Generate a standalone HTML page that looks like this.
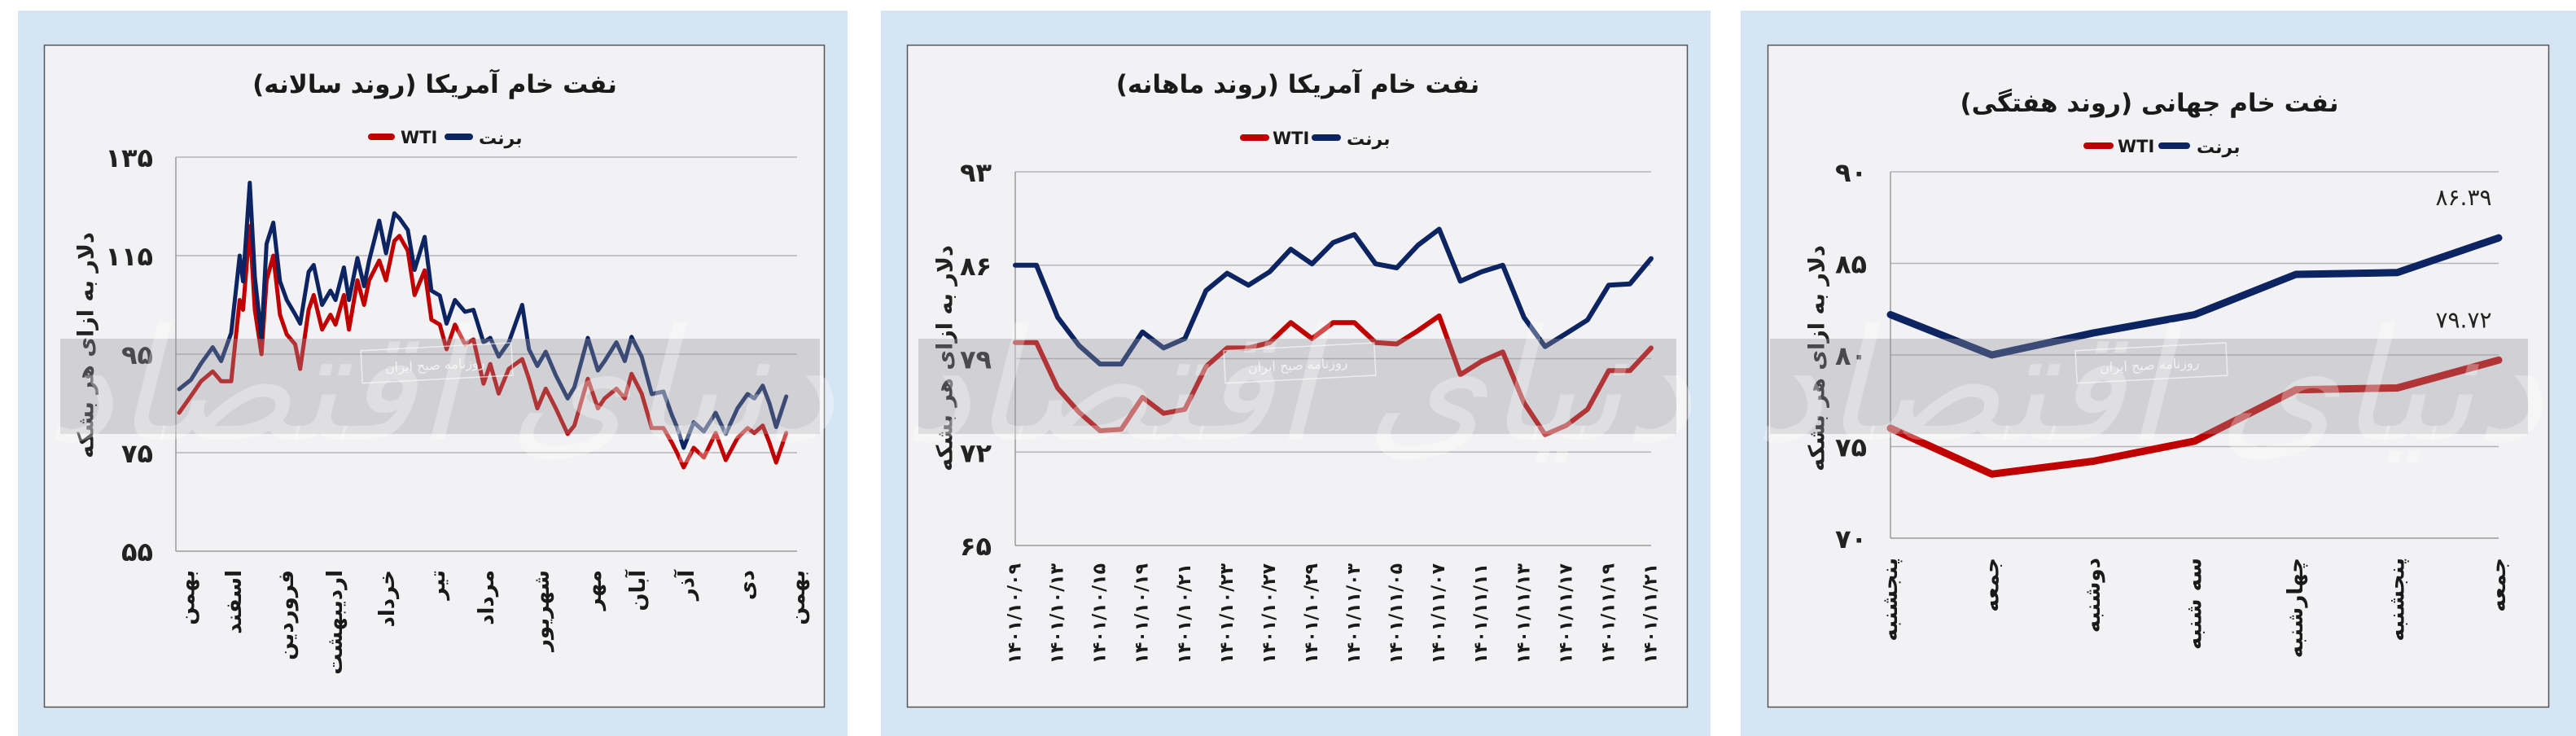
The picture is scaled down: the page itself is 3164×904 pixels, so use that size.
<!DOCTYPE html>
<html><head><meta charset="utf-8">
<style>
html,body{margin:0;padding:0;background:#fff;}
svg{display:block;}
text{font-family:"DejaVu Sans","Liberation Sans",sans-serif;}
</style></head>
<body>
<svg id="root" width="3164" height="904" viewBox="0 0 3164 904" xmlns="http://www.w3.org/2000/svg">
  <rect x="22" y="13" width="1019" height="891" fill="#d6e5f4"/>
  <rect x="1082" y="13" width="1019" height="891" fill="#d6e5f4"/>
  <rect x="2138" y="13" width="1026" height="891" fill="#d6e5f4"/>
  <rect x="54.5" y="55.5" width="958" height="813" fill="#f2f2f4" stroke="#555" stroke-width="1.5"/>
  <rect x="1114.5" y="55.5" width="958" height="813" fill="#f2f2f4" stroke="#555" stroke-width="1.5"/>
  <rect x="2171.5" y="55.5" width="959" height="813" fill="#f2f2f4" stroke="#555" stroke-width="1.5"/>
  <g id="layer"></g>
</svg>
<script>
// ---------- Panel 1: yearly ----------
const yearDays = [0,7,13,20,25,31,36,38,42,45,49,52,56,60,64,69,72,77,80,85,90,93,98,101,106,110,113,119,123,128,131,136,140,146,150,155,159,164,170,175,181,185,190,196,204,208,213,218,224,231,235,243,249,253,260,265,269,275,281,288,293,296,300,306,312,319,325,332,338,342,347,351,355,361];
const yearBrent = [87.9,89.8,93.1,96.4,93.6,99.3,115,109.8,129.8,110.7,98.3,117.4,121.7,109.8,106,103.1,101.2,111.7,113.1,105,107.9,106,112.6,106,114.5,108.8,114,122.1,115.5,123.6,122.6,120.2,112.1,118.8,107.9,106.9,101.2,106,103.6,104,97.4,98.3,94.5,97.4,105,96,92.6,95.5,90.7,86,88.3,98.3,91.7,93.6,97.4,93.6,98.5,94.5,86.9,87.4,82.6,80.2,76,81.2,79.3,83.1,78.8,84,86.9,86,88.6,85,80.2,86.4];
const yearWti = [83.1,86.5,89.5,91.5,89.5,89.5,106,104,121,104,95,110,115,103,99,97,92,104,107,100,103,101,107,100,110,105,110,114,110,118,119,116,107,112,102,101,96,101,97,98,89,93,87,92,94,90,84,88,84,78.8,80.5,90,84,86,88,86,91,87,80,80,77,75,72,76,74,79,73.5,78,80,79,80.5,77,73,79];
const yearTicks = [55,75,95,115,135];
const yearTickLabels = ["۵۵","۷۵","۹۵","۱۱۵","۱۳۵"];
const yearMonthDays = [5,33,64,93,124,154,183,216,247,273,302,338,368];
const yearMonthLabels = ["بهمن","اسفند","فروردین","اردیبهشت","خرداد","تیر","مرداد","شهریور","مهر","آبان","آذر","دی","بهمن"];

// ---------- Panel 2: monthly ----------
const monthBrent = [86.0,86.0,82.1,80.0,78.6,78.6,81.0,79.8,80.5,84.1,85.4,84.5,85.5,87.2,86.1,87.7,88.3,86.1,85.8,87.5,88.7,84.8,85.5,86.0,82.1,79.9,80.9,81.9,84.5,84.6,86.5];
const monthWti = [80.2,80.2,76.8,75.0,73.6,73.7,76.1,74.9,75.2,78.4,79.8,79.8,80.2,81.7,80.5,81.7,81.7,80.2,80.1,81.1,82.2,77.8,78.8,79.5,75.7,73.3,74.0,75.2,78.1,78.1,79.8];
const monthTicks = [65,72,79,86,93];
const monthTickLabels = ["۶۵","۷۲","۷۹","۸۶","۹۳"];
const monthDateLabels = ["۱۴۰۱/۱۰/۰۹","۱۴۰۱/۱۰/۱۳","۱۴۰۱/۱۰/۱۵","۱۴۰۱/۱۰/۱۹","۱۴۰۱/۱۰/۲۱","۱۴۰۱/۱۰/۲۳","۱۴۰۱/۱۰/۲۷","۱۴۰۱/۱۰/۲۹","۱۴۰۱/۱۱/۰۳","۱۴۰۱/۱۱/۰۵","۱۴۰۱/۱۱/۰۷","۱۴۰۱/۱۱/۱۱","۱۴۰۱/۱۱/۱۳","۱۴۰۱/۱۱/۱۷","۱۴۰۱/۱۱/۱۹","۱۴۰۱/۱۱/۲۱"];

// ---------- Panel 3: weekly ----------
const weekDays = ["پنجشنبه","جمعه","دوشنبه","سه شنبه","چهارشنبه","پنجشنبه","جمعه"];
const weekBrent = [82.2,80.0,81.2,82.2,84.4,84.5,86.39];
const weekWti = [76.0,73.5,74.2,75.3,78.1,78.2,79.72];
const weekTicks = [70,75,80,85,90];
const weekTickLabels = ["۷۰","۷۵","۸۰","۸۵","۹۰"];
const weekLastLabels = ["۸۶.۳۹","۷۹.۷۲"];

const NS = "http://www.w3.org/2000/svg";
const layer = document.getElementById('layer');
function mk(tag, attrs, parent){
  const e = document.createElementNS(NS, tag);
  for (const k in attrs) e.setAttribute(k, attrs[k]);
  (parent||layer).appendChild(e);
  return e;
}
function txt(s, attrs, parent){ const t = mk('text', attrs, parent); t.textContent = s; return t; }

function panel(cfg){
  const g = mk('g', {});
  
  
  const yS = v => cfg.yBot - (v - cfg.vmin) / (cfg.vmax - cfg.vmin) * (cfg.yBot - cfg.yTop);
  cfg.ticks.forEach((t, i) => {
    const y = yS(t);
    const l = mk('line', {x1: cfg.left, x2: cfg.right, y1: y, y2: y, stroke: i === 0 ? '#999' : '#b5b5b8', 'stroke-width': 1.5}, g);
    
    
    const tl = txt(cfg.tickLabels[i], {x: cfg.tickX, y: y + 12, 'text-anchor': 'end', 'font-size': 32, 'font-weight': 'bold', fill: '#222'}, g);
    
    
  });
  const ax = mk('line', {x1: cfg.left, x2: cfg.left, y1: cfg.yTop, y2: cfg.yBot, stroke: '#999', 'stroke-width': 1.5}, g);
  
  
  const ti = txt(cfg.title, {x: cfg.cx, y: cfg.titleY, 'text-anchor': 'middle', 'font-size': 31, 'font-weight': 'bold', fill: '#1a1a1a', direction: 'rtl'}, g);
  
  
  const yt = txt('دلار به ازای هر بشکه', {x: 0, y: 0, transform: `translate(${cfg.yTitleX},${cfg.yTitleY}) rotate(-90)`, 'text-anchor': 'middle', 'font-size': 27, 'font-weight': 'bold', fill: '#222', 'dominant-baseline': 'central'}, g);
  
  
  const L = cfg.legend;
  const lr = mk('line', {x1: L[0], x2: L[1], y1: L[6], y2: L[6], stroke: '#c00000', 'stroke-width': 8, 'stroke-linecap': 'round'}, g);
  
  
  const lw = txt('WTI', {x: L[2], y: L[6] + 8, 'font-size': 21, 'font-weight': 'bold', fill: '#1a1a1a', 'font-family': 'Liberation Sans, sans-serif'}, g);
  
  
  const lb = mk('line', {x1: L[3], x2: L[4], y1: L[6], y2: L[6], stroke: '#0d2463', 'stroke-width': 8, 'stroke-linecap': 'round'}, g);
  
  
  const lbt = txt('برنت', {x: L[5], y: L[6] + 9, 'font-size': 22, 'font-weight': 'bold', fill: '#1a1a1a'}, g);
  
  
  [[cfg.wti, '#c00000', 'wti-line'], [cfg.brent, '#0d2463', 'brent-line']].forEach(([vals, col, nm]) => {
    const pts = vals.map((v, i) => cfg.xS(i).toFixed(1) + ',' + yS(v).toFixed(1)).join(' ');
    const p = mk('polyline', {points: pts, fill: 'none', stroke: col, 'stroke-width': cfg.lw, 'stroke-linejoin': 'round', 'stroke-linecap': 'round'}, g);
    
    
  });
  cfg.xLabels.forEach((s, i) => {
    const x = cfg.xLabelX(i);
    const t = txt(s, {x: 0, y: 0, transform: `translate(${x},${cfg.xLabelY}) rotate(-90)`, 'text-anchor': 'end', 'font-size': cfg.xFont, 'font-weight': 'bold', fill: '#1a1a1a', 'dominant-baseline': 'central'}, g);
    
    
  });
  const b = mk('rect', {x: cfg.band[0], y: 416, width: cfg.band[1] - cfg.band[0], height: 117, fill: 'rgb(150,150,155)', 'fill-opacity': 0.35}, g);
  
  
  const wm = txt('دنیای اقتصاد', {x: (cfg.band[0] + cfg.band[1]) / 2, y: 540, 'text-anchor': 'middle', 'font-size': 190, fill: '#ffffff', 'fill-opacity': 0.3, 'font-style': 'italic'}, g);
  
  
  const sb = mk('rect', {x: cfg.cx - 90, y: 426, width: 185, height: 40, fill: 'none', stroke: '#fff', 'stroke-opacity': 0.6, 'stroke-width': 1.5, transform: `rotate(-3 ${cfg.cx} 446)`}, g);
  
  
  const st = txt('روزنامه صبح ایران', {x: cfg.cx, y: 454, 'text-anchor': 'middle', 'font-size': 16, fill: '#fff', 'fill-opacity': 0.7, transform: `rotate(-3 ${cfg.cx} 446)`}, g);
  
  
  return {g, yS};
}

const dayX = d => 220 + d / 365 * 754;
panel({name: 'chart-yearly', left: 216, right: 979, yTop: 193, yBot: 677, vmin: 55, vmax: 135,
  ticks: yearTicks, tickLabels: yearTickLabels, tickX: 188, title: 'نفت خام آمریکا (روند سالانه)', cx: 534, titleY: 114,
  yTitleX: 106, yTitleY: 424, legend: [456, 481, 492, 550, 577, 588, 168],
  brent: yearBrent, wti: yearWti, xS: i => dayX(yearDays[i]), lw: 5,
  xLabels: yearMonthLabels, xLabelX: i => dayX(yearMonthDays[i]), xLabelY: 700, xFont: 26, band: [74, 1007]});

panel({name: 'chart-monthly', left: 1247, right: 2028, yTop: 211, yBot: 670, vmin: 65, vmax: 93,
  ticks: monthTicks, tickLabels: monthTickLabels, tickX: 1218, title: 'نفت خام آمریکا (روند ماهانه)', cx: 1594, titleY: 114,
  yTitleX: 1161, yTitleY: 440, legend: [1527, 1555, 1563, 1615, 1643, 1654, 169],
  brent: monthBrent, wti: monthWti, xS: i => 1247 + i * (2028 - 1247) / (monthBrent.length - 1), lw: 6,
  xLabels: monthDateLabels, xLabelX: i => 1247 + i * (2028 - 1247) / (monthDateLabels.length - 1), xLabelY: 692, xFont: 22, band: [1128, 2059]});

const p3 = panel({name: 'chart-weekly', left: 2322, right: 3069, yTop: 211, yBot: 661, vmin: 70, vmax: 90,
  ticks: weekTicks, tickLabels: weekTickLabels, tickX: 2293, title: 'نفت خام جهانی (روند هفتگی)', cx: 2640, titleY: 137,
  yTitleX: 2232, yTitleY: 440, legend: [2563, 2592, 2601, 2655, 2686, 2698, 179],
  brent: weekBrent, wti: weekWti, xS: i => 2322 + i * (3069 - 2322) / (weekBrent.length - 1), lw: 9,
  xLabels: weekDays, xLabelX: i => 2322 + i * (3069 - 2322) / (weekDays.length - 1), xLabelY: 685, xFont: 26, band: [2174, 3105]});
[[weekBrent, 0], [weekWti, 1]].forEach(([arr, k]) => {
  const v = arr[arr.length - 1];
  const t = txt(weekLastLabels[k], {x: 3026, y: p3.yS(v) - 40, 'text-anchor': 'middle', 'font-size': 28, fill: '#222'}, p3.g);
  
  
});
</script>
</body></html>
